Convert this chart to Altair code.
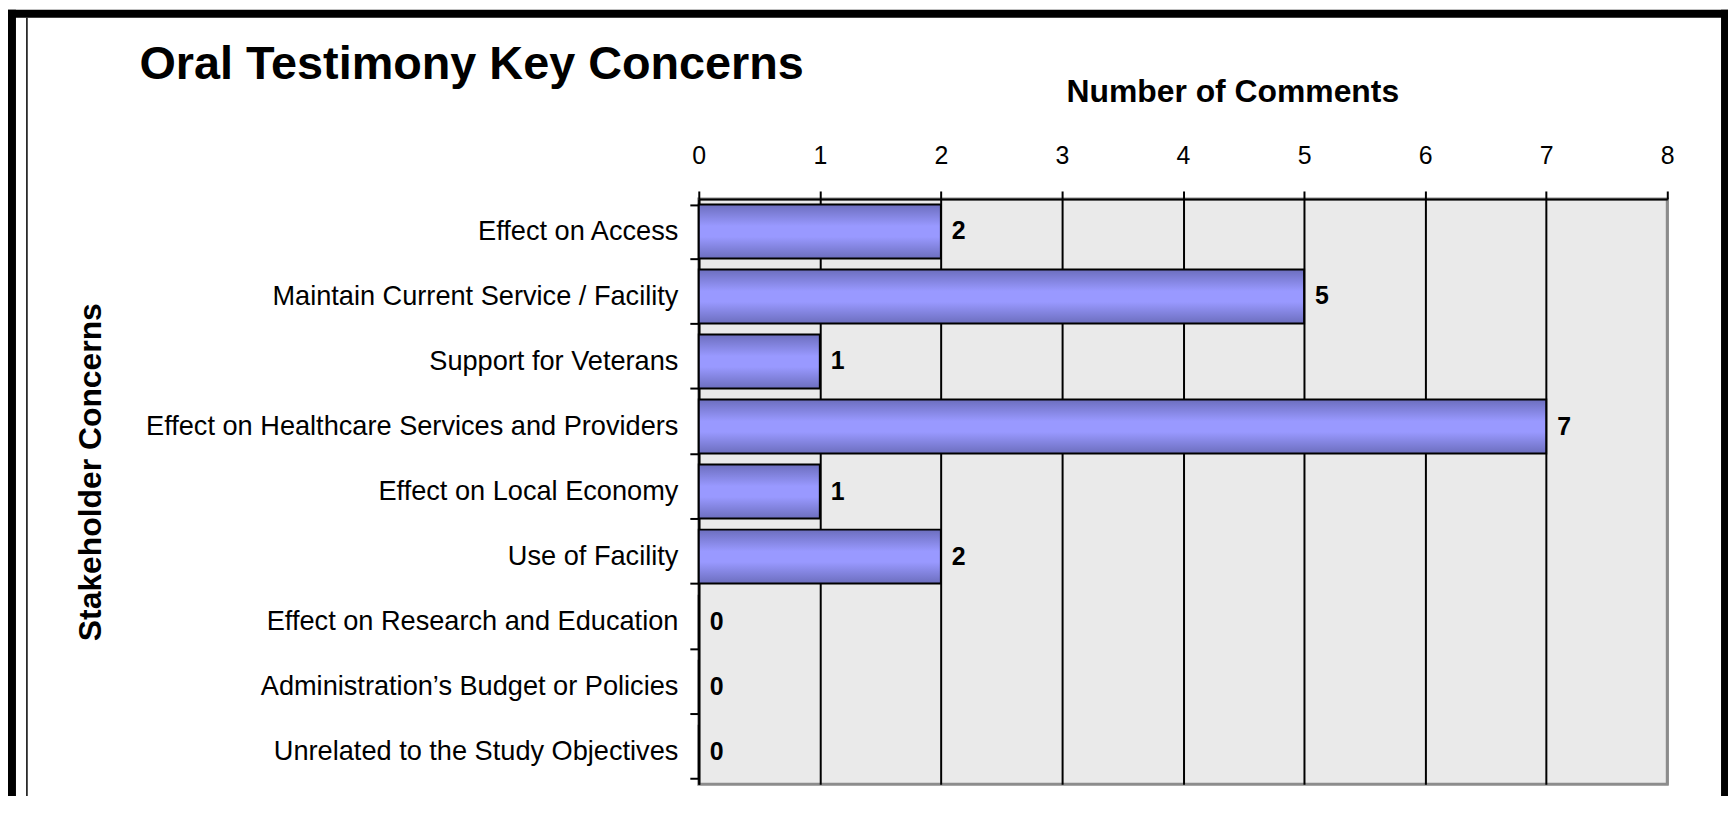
import altair as alt
import pandas as pd

categories = [
    "Effect on Access",
    "Maintain Current Service / Facility",
    "Support for Veterans",
    "Effect on Healthcare Services and Providers",
    "Effect on Local Economy",
    "Use of Facility",
    "Effect on Research and Education",
    "Administration\u2019s Budget or Policies",
    "Unrelated to the Study Objectives",
]
comments = [2, 5, 1, 7, 1, 2, 0, 0, 0]
x_ticks = [0, 1, 2, 3, 4, 5, 6, 7, 8]

df = pd.DataFrame({"concern": categories, "count": comments})

FONT = "Liberation Sans"
W, H = 973, 588

gradient = alt.LinearGradient(
    gradient="linear",
    stops=[
        alt.GradientStop(color="#6C6EBE", offset=0),
        alt.GradientStop(color="#9999FF", offset=0.4),
        alt.GradientStop(color="#9999FF", offset=0.6),
        alt.GradientStop(color="#6C6EBE", offset=1),
    ],
    x1=0, x2=0, y1=0, y2=1,
)

x_enc = alt.X(
    "count:Q",
    scale=alt.Scale(domain=[0, 8], nice=False),
    axis=alt.Axis(
        orient="top", values=x_ticks, format="d",
        grid=True,
        gridColor=alt.condition("datum.value === 8", alt.value("#8C8C8C"), alt.value("black")),
        gridWidth=2,
        domainColor="black", domainWidth=2,
        tickColor="black", tickWidth=2, tickSize=8,
        labelFont=FONT, labelFontSize=25, labelColor="black", labelPadding=23,
        labelFlush=False,
        title="Number of Comments", titleFont=FONT, titleFontSize=32,
        titleFontWeight="bold", titleColor="black",
        titleX=536, titleY=-98, titleAlign="center", titleBaseline="alphabetic",
    ),
)
y_enc = alt.Y(
    "concern:N", sort=categories,
    scale=alt.Scale(paddingInner=0.17, paddingOuter=0.085),
    axis=alt.Axis(
        orient="left", tickBand="extent", grid=False,
        domainColor="black", domainWidth=2,
        tickColor="black", tickWidth=2, tickSize=9,
        labelFont=FONT, labelFontSize=27.3, labelColor="black", labelPadding=12,
        labelLimit=0,
        title="Stakeholder Concerns", titleFont=FONT, titleFontSize=32,
        titleFontWeight="bold", titleColor="black",
        titleX=-601, titleY=274, titleAngle=270, titleAlign="center",
        titleBaseline="alphabetic",
    ),
)

bars = alt.Chart(df).mark_bar(fill=gradient, stroke="black", strokeWidth=2).encode(
    x=x_enc, y=y_enc
)
labels = alt.Chart(df).mark_text(
    align="left", baseline="middle", dx=11, font=FONT, fontSize=25,
    fontWeight="bold", color="black"
).encode(x="count:Q", y=alt.Y("concern:N", sort=categories), text="count:Q")

one = alt.Data(values=[{"k": 1}])
def rule(x, x2, y, y2, color, width):
    return alt.Chart(one).mark_rule(color=color, strokeWidth=width).encode(
        x=alt.value(x), x2=alt.value(x2), y=alt.value(y), y2=alt.value(y2)
    )

frame = [
    rule(-694, 1034, -186, -186, "black", 8),
    rule(-690, -690, -190, 610, "black", 8),
    rule(1031, 1031, -190, 610, "black", 8),
    rule(-675, -675, -182, 610, "black", 1.5),
]

chart = alt.layer(bars, labels, *frame).properties(
    width=W, height=H,
    title=alt.TitleParams(
        "Oral Testimony Key Concerns", anchor="start", frame="group",
        dx=-562, dy=124, fontSize=47, font=FONT, fontWeight="bold",
        color="black", baseline="alphabetic",
    ),
    autosize=alt.AutoSizeParams(type="none"),
    padding={"left": 694, "top": 190, "right": 61, "bottom": 10},
    background="white",
).configure_view(fill="#EAEAEA", stroke="#8C8C8C", strokeWidth=3)

chart.save("out.html", embed_options={"renderer": "svg", "actions": False})
